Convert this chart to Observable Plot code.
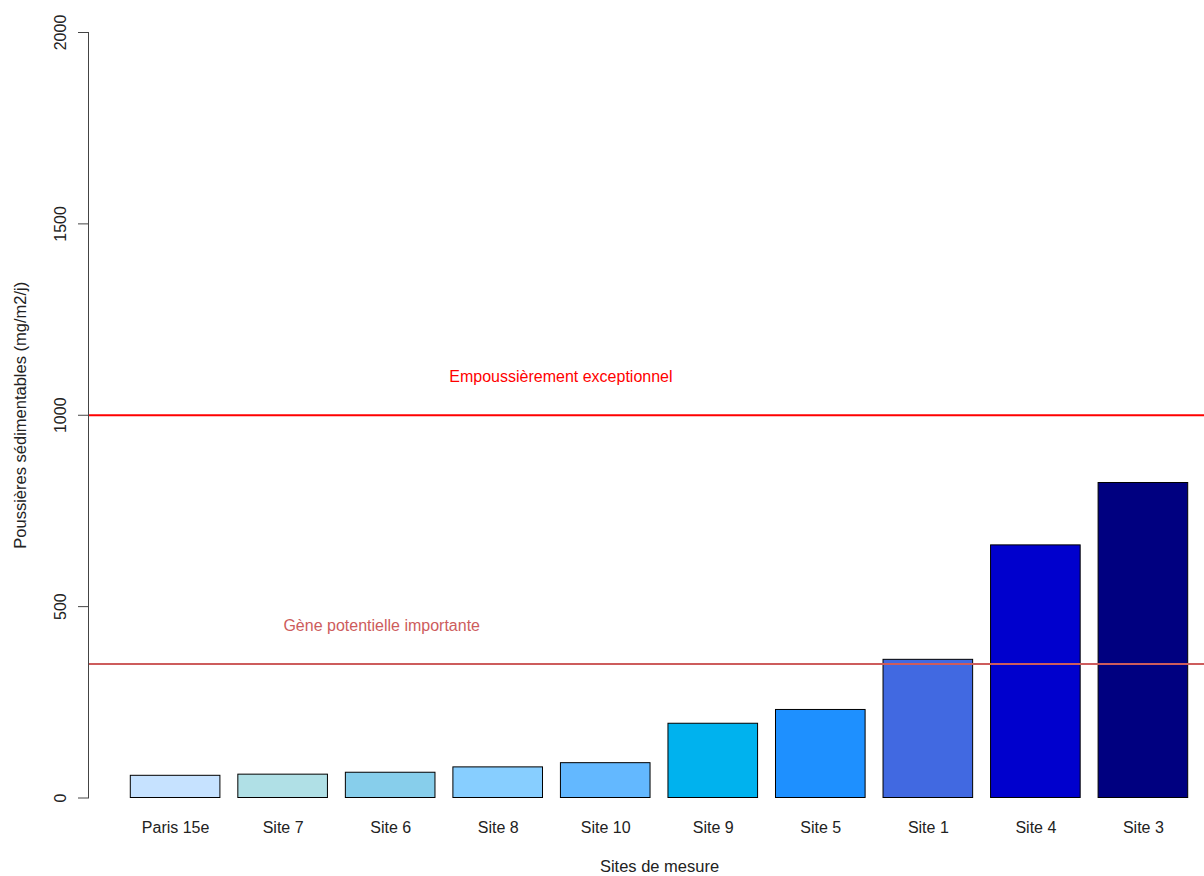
<!DOCTYPE html>
<html>
<head>
<meta charset="utf-8">
<script src="https://cdn.jsdelivr.net/npm/d3@7"></script>
<script src="https://cdn.jsdelivr.net/npm/@observablehq/plot@0.6"></script>
<style>
  html, body { margin: 0; padding: 0; background: #fff; }
  #chart svg { display: block; }
</style>
</head>
<body>
<div id="chart"></div>
<script>
// ---- data ----
const sites  = ["Paris 15e", "Site 7", "Site 6", "Site 8", "Site 10", "Site 9", "Site 5", "Site 1", "Site 4", "Site 3"];
const values = [58, 61, 66, 80, 91, 194, 230, 361, 660, 823];
const colors = ["#C6E2FF", "#B0E0E6", "#87CEEB", "#87CEFF", "#63B8FF", "#00B2EE", "#1E90FF", "#4169E1", "#0000CD", "#000080"];
const yTicks = [0, 500, 1000, 1500, 2000];
const thresholdValues = [1000, 350];
const thresholdLabels = ["Empoussièrement exceptionnel", "Gène potentielle importante"];
const thresholdColors = ["#FF0000", "#CD5C5C"];
const xTitle = "Sites de mesure";
const yTitle = "Poussières sédimentables (mg/m2/j)";

// R barplot layout: width 1, space 0.2
const barSpace = 0.2, barStep = 1.2;
const bars = sites.map((s, i) => ({
  site: s, value: values[i], color: colors[i],
  x1: barSpace + barStep * i, x2: barSpace + barStep * i + 1
}));
const centers = bars.map(d => (d.x1 + d.x2) / 2);
const xDomain = [barSpace - 0.04 * (barStep * sites.length - barSpace), barStep * sites.length + 0.04 * (barStep * sites.length - barSpace)];
const xMid = (xDomain[0] + xDomain[1]) / 2;

const annotations = [
  {text: thresholdLabels[0], x: 5, y: 1100, color: thresholdColors[0]},
  {text: thresholdLabels[1], x: 3, y: 450, color: thresholdColors[1]}
];

const chart = Plot.plot({
  width: 1204,
  height: 876,
  marginLeft: 88,
  marginRight: 0,
  marginTop: 32,
  marginBottom: 78.5,
  style: {fontFamily: "Arial, 'Liberation Sans', sans-serif", fontSize: "16px", color: "#000", background: "#fff"},
  x: {type: "linear", domain: xDomain, range: [88, 1230], axis: null},
  y: {domain: [0, 2000], range: [797.5, 32], axis: null},
  marks: [
    Plot.rect(bars, {x1: "x1", x2: "x2", y1: 0, y2: "value", fill: "color", stroke: "#000", strokeWidth: 1}),
    Plot.ruleY([thresholdValues[0]], {stroke: thresholdColors[0], strokeWidth: 2}),
    Plot.ruleY([thresholdValues[1]], {stroke: thresholdColors[1], strokeWidth: 2}),
    Plot.text(annotations, {x: "x", y: "y", text: "text", fill: "color", fontSize: 16}),
    Plot.frame({anchor: "left", stroke: "#444", strokeWidth: 1}),
    Plot.axisY(yTicks, {anchor: "left", tickSize: 10, tickPadding: 13, tickRotate: -90, fontSize: 16, label: null,
      stroke: "#444", fill: "#222", tickFormat: d => String(d)}),
    Plot.axisX(centers, {anchor: "bottom", tickSize: 0, tickPadding: 24, fontSize: 16, label: null, fill: "#222",
      tickFormat: d => sites[Math.round((d - 0.7) / barStep)]}),
    Plot.text([xTitle], {x: () => xMid, y: () => 0, dy: 69, text: d => d, fontSize: 16.5, fill: "#222"}),
    Plot.text([yTitle], {frameAnchor: "left", y: () => 1000, dx: -63, rotate: -90, textAnchor: "middle", lineAnchor: "bottom",
      text: d => d, fontSize: 16.5, fill: "#222"})
  ]
});
document.getElementById("chart").appendChild(chart);
</script>
</body>
</html>
